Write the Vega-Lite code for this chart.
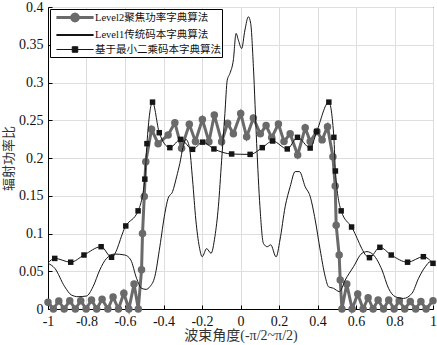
{
  "$schema": "https://vega.github.io/schema/vega-lite/v6.json",
  "width": 385,
  "height": 302,
  "autosize": "none",
  "padding": {"left": 48, "top": 7, "right": 4, "bottom": 36},
  "background": "white",
  "config": {
    "view": {"stroke": "black", "strokeWidth": 1},
    "font": "Liberation Serif, Noto Sans CJK SC",
    "axis": {
      "labelFont": "Liberation Serif, Noto Sans CJK SC",
      "titleFont": "Liberation Serif, Noto Sans CJK SC",
      "labelFontSize": 14,
      "labelColor": "#111",
      "titleFontSize": 13,
      "titleFontWeight": "normal",
      "titleColor": "#333",
      "domainColor": "black",
      "tickColor": "black",
      "tickSize": -4,
      "labelPadding": 9,
      "gridColor": "#dedede",
      "gridWidth": 1
    },
    "legend": {
      "labelFont": "Liberation Serif, Noto Sans CJK SC",
      "labelFontSize": 10.5,
      "labelColor": "#111",
      "title": null,
      "orient": "top-left",
      "offset": 2,
      "padding": 1,
      "rowPadding": 0,
      "strokeColor": "black",
      "fillColor": "white",
      "symbolSize": 144,
      "symbolOffset": 16.5,
      "labelOffset": 12.5
    }
  },
  "data": {
    "values": [
      {"series": "Level2聚焦功率字典算法", "x": -1, "y": 0.009},
      {"series": "Level2聚焦功率字典算法", "x": -0.972, "y": 0},
      {"series": "Level2聚焦功率字典算法", "x": -0.944, "y": 0.0106},
      {"series": "Level2聚焦功率字典算法", "x": -0.916, "y": 0},
      {"series": "Level2聚焦功率字典算法", "x": -0.887, "y": 0.011},
      {"series": "Level2聚焦功率字典算法", "x": -0.858, "y": 0},
      {"series": "Level2聚焦功率字典算法", "x": -0.83, "y": 0.011},
      {"series": "Level2聚焦功率字典算法", "x": -0.802, "y": 0},
      {"series": "Level2聚焦功率字典算法", "x": -0.774, "y": 0.012},
      {"series": "Level2聚焦功率字典算法", "x": -0.747, "y": 0},
      {"series": "Level2聚焦功率字典算法", "x": -0.719, "y": 0.013},
      {"series": "Level2聚焦功率字典算法", "x": -0.689, "y": 0},
      {"series": "Level2聚焦功率字典算法", "x": -0.662, "y": 0.016},
      {"series": "Level2聚焦功率字典算法", "x": -0.634, "y": 0},
      {"series": "Level2聚焦功率字典算法", "x": -0.606, "y": 0.021},
      {"series": "Level2聚焦功率字典算法", "x": -0.58, "y": 0},
      {"series": "Level2聚焦功率字典算法", "x": -0.553, "y": 0.033},
      {"series": "Level2聚焦功率字典算法", "x": -0.531, "y": 0},
      {"series": "Level2聚焦功率字典算法", "x": -0.514, "y": 0.052},
      {"series": "Level2聚焦功率字典算法", "x": -0.509, "y": 0.1},
      {"series": "Level2聚焦功率字典算法", "x": -0.5, "y": 0.149},
      {"series": "Level2聚焦功率字典算法", "x": -0.492, "y": 0.195},
      {"series": "Level2聚焦功率字典算法", "x": -0.462, "y": 0.238},
      {"series": "Level2聚焦功率字典算法", "x": -0.428, "y": 0.219},
      {"series": "Level2聚焦功率字典算法", "x": -0.376, "y": 0.2305},
      {"series": "Level2聚焦功率字典算法", "x": -0.341, "y": 0.2467},
      {"series": "Level2聚焦功率字典算法", "x": -0.306, "y": 0.213},
      {"series": "Level2聚焦功率字典算法", "x": -0.266, "y": 0.2446},
      {"series": "Level2聚焦功率字典算法", "x": -0.234, "y": 0.222},
      {"series": "Level2聚焦功率字典算法", "x": -0.198, "y": 0.251},
      {"series": "Level2聚焦功率字典算法", "x": -0.164, "y": 0.2216},
      {"series": "Level2聚焦功率字典算法", "x": -0.136, "y": 0.257},
      {"series": "Level2聚焦功率字典算法", "x": -0.098, "y": 0.2216},
      {"series": "Level2聚焦功率字典算法", "x": -0.067, "y": 0.246},
      {"series": "Level2聚焦功率字典算法", "x": -0.037, "y": 0.232},
      {"series": "Level2聚焦功率字典算法", "x": 0.001, "y": 0.259},
      {"series": "Level2聚焦功率字典算法", "x": 0.032, "y": 0.228},
      {"series": "Level2聚焦功率字典算法", "x": 0.067, "y": 0.253},
      {"series": "Level2聚焦功率字典算法", "x": 0.103, "y": 0.232},
      {"series": "Level2聚焦功率字典算法", "x": 0.133, "y": 0.243},
      {"series": "Level2聚焦功率字典算法", "x": 0.162, "y": 0.227},
      {"series": "Level2聚焦功率字典算法", "x": 0.197, "y": 0.245},
      {"series": "Level2聚焦功率字典算法", "x": 0.226, "y": 0.222},
      {"series": "Level2聚焦功率字典算法", "x": 0.258, "y": 0.232},
      {"series": "Level2聚焦功率字典算法", "x": 0.297, "y": 0.204},
      {"series": "Level2聚焦功率字典算法", "x": 0.336, "y": 0.24},
      {"series": "Level2聚焦功率字典算法", "x": 0.362, "y": 0.222},
      {"series": "Level2聚焦功率字典算法", "x": 0.397, "y": 0.235},
      {"series": "Level2聚焦功率字典算法", "x": 0.424, "y": 0.224},
      {"series": "Level2聚焦功率字典算法", "x": 0.452, "y": 0.2415},
      {"series": "Level2聚焦功率字典算法", "x": 0.48, "y": 0.2017},
      {"series": "Level2聚焦功率字典算法", "x": 0.492, "y": 0.163},
      {"series": "Level2聚焦功率字典算法", "x": 0.497, "y": 0.111},
      {"series": "Level2聚焦功率字典算法", "x": 0.5125, "y": 0.0715},
      {"series": "Level2聚焦功率字典算法", "x": 0.518, "y": 0.0384},
      {"series": "Level2聚焦功率字典算法", "x": 0.527, "y": 0},
      {"series": "Level2聚焦功率字典算法", "x": 0.552, "y": 0.033},
      {"series": "Level2聚焦功率字典算法", "x": 0.58, "y": 0},
      {"series": "Level2聚焦功率字典算法", "x": 0.609, "y": 0.02},
      {"series": "Level2聚焦功率字典算法", "x": 0.637, "y": 0},
      {"series": "Level2聚焦功率字典算法", "x": 0.663, "y": 0.015},
      {"series": "Level2聚焦功率字典算法", "x": 0.689, "y": 0},
      {"series": "Level2聚焦功率字典算法", "x": 0.715, "y": 0.012},
      {"series": "Level2聚焦功率字典算法", "x": 0.743, "y": 0},
      {"series": "Level2聚焦功率字典算法", "x": 0.77, "y": 0.012},
      {"series": "Level2聚焦功率字典算法", "x": 0.798, "y": 0},
      {"series": "Level2聚焦功率字典算法", "x": 0.825, "y": 0.011},
      {"series": "Level2聚焦功率字典算法", "x": 0.853, "y": 0},
      {"series": "Level2聚焦功率字典算法", "x": 0.882, "y": 0.01},
      {"series": "Level2聚焦功率字典算法", "x": 0.91, "y": 0},
      {"series": "Level2聚焦功率字典算法", "x": 0.937, "y": 0.01},
      {"series": "Level2聚焦功率字典算法", "x": 0.964, "y": 0},
      {"series": "Level2聚焦功率字典算法", "x": 1, "y": 0.011},

      {"series": "Level1传统码本字典算法", "x": -1, "y": 0.0605},
      {"series": "Level1传统码本字典算法", "x": -0.965, "y": 0.054},
      {"series": "Level1传统码本字典算法", "x": -0.913, "y": 0.0295},
      {"series": "Level1传统码本字典算法", "x": -0.878, "y": 0.0185},
      {"series": "Level1传统码本字典算法", "x": -0.844, "y": 0.0163},
      {"series": "Level1传统码本字典算法", "x": -0.8, "y": 0.0172},
      {"series": "Level1传统码本字典算法", "x": -0.766, "y": 0.0295},
      {"series": "Level1传统码本字典算法", "x": -0.731, "y": 0.0517},
      {"series": "Level1传统码本字典算法", "x": -0.696, "y": 0.067},
      {"series": "Level1传统码本字典算法", "x": -0.653, "y": 0.0728},
      {"series": "Level1传统码本字典算法", "x": -0.601, "y": 0.0715},
      {"series": "Level1传统码本字典算法", "x": -0.57, "y": 0.065},
      {"series": "Level1传统码本字典算法", "x": -0.54, "y": 0.0407},
      {"series": "Level1传统码本字典算法", "x": -0.514, "y": 0.0274},
      {"series": "Level1传统码本字典算法", "x": -0.49, "y": 0.026},
      {"series": "Level1传统码本字典算法", "x": -0.471, "y": 0.0295},
      {"series": "Level1传统码本字典算法", "x": -0.445, "y": 0.043},
      {"series": "Level1传统码本字典算法", "x": -0.419, "y": 0.0825},
      {"series": "Level1传统码本字典算法", "x": -0.393, "y": 0.1267},
      {"series": "Level1传统码本字典算法", "x": -0.376, "y": 0.1466},
      {"series": "Level1传统码本字典算法", "x": -0.353, "y": 0.1554},
      {"series": "Level1传统码本字典算法", "x": -0.332, "y": 0.175},
      {"series": "Level1传统码本字典算法", "x": -0.315, "y": 0.193},
      {"series": "Level1传统码本字典算法", "x": -0.298, "y": 0.215},
      {"series": "Level1传统码本字典算法", "x": -0.284, "y": 0.2247},
      {"series": "Level1传统码本字典算法", "x": -0.266, "y": 0.215},
      {"series": "Level1传统码本字典算法", "x": -0.249, "y": 0.171},
      {"series": "Level1传统码本字典算法", "x": -0.232, "y": 0.118},
      {"series": "Level1传统码本字典算法", "x": -0.214, "y": 0.0825},
      {"series": "Level1传统码本字典算法", "x": -0.199, "y": 0.0693},
      {"series": "Level1传统码本字典算法", "x": -0.176, "y": 0.08},
      {"series": "Level1传统码本字典算法", "x": -0.153, "y": 0.0738},
      {"series": "Level1传统码本字典算法", "x": -0.133, "y": 0.0958},
      {"series": "Level1传统码本字典算法", "x": -0.115, "y": 0.1355},
      {"series": "Level1传统码本字典算法", "x": -0.098, "y": 0.197},
      {"series": "Level1传统码本字典算法", "x": -0.081, "y": 0.259},
      {"series": "Level1传统码本字典算法", "x": -0.069, "y": 0.303},
      {"series": "Level1传统码本字典算法", "x": -0.055, "y": 0.312},
      {"series": "Level1传统码本字典算法", "x": -0.037, "y": 0.33},
      {"series": "Level1传统码本字典算法", "x": -0.023, "y": 0.365},
      {"series": "Level1传统码本字典算法", "x": -0.011, "y": 0.356},
      {"series": "Level1传统码本字典算法", "x": 0.006, "y": 0.345},
      {"series": "Level1传统码本字典算法", "x": 0.023, "y": 0.3695},
      {"series": "Level1传统码本字典算法", "x": 0.041, "y": 0.387},
      {"series": "Level1传统码本字典算法", "x": 0.053, "y": 0.378},
      {"series": "Level1传统码本字典算法", "x": 0.067, "y": 0.321},
      {"series": "Level1传统码本字典算法", "x": 0.084, "y": 0.219},
      {"series": "Level1传统码本字典算法", "x": 0.101, "y": 0.1355},
      {"series": "Level1传统码本字典算法", "x": 0.119, "y": 0.087},
      {"series": "Level1传统码本字典算法", "x": 0.139, "y": 0.0825},
      {"series": "Level1传统码本字典算法", "x": 0.157, "y": 0.085},
      {"series": "Level1传统码本字典算法", "x": 0.185, "y": 0.069},
      {"series": "Level1传统码本字典算法", "x": 0.205, "y": 0.0914},
      {"series": "Level1传统码本字典算法", "x": 0.232, "y": 0.1355},
      {"series": "Level1传统码本字典算法", "x": 0.258, "y": 0.162},
      {"series": "Level1传统码本字典算法", "x": 0.284, "y": 0.182},
      {"series": "Level1传统码本字典算法", "x": 0.306, "y": 0.182},
      {"series": "Level1传统码本字典算法", "x": 0.336, "y": 0.162},
      {"series": "Level1传统码本字典算法", "x": 0.362, "y": 0.149},
      {"series": "Level1传统码本字典算法", "x": 0.388, "y": 0.118},
      {"series": "Level1传统码本字典算法", "x": 0.414, "y": 0.078},
      {"series": "Level1传统码本字典算法", "x": 0.44, "y": 0.043},
      {"series": "Level1传统码本字典算法", "x": 0.457, "y": 0.0295},
      {"series": "Level1传统码本字典算法", "x": 0.483, "y": 0.0274},
      {"series": "Level1传统码本字典算法", "x": 0.514, "y": 0.023},
      {"series": "Level1传统码本字典算法", "x": 0.544, "y": 0.0384},
      {"series": "Level1传统码本字典算法", "x": 0.587, "y": 0.056},
      {"series": "Level1传统码本字典算法", "x": 0.631, "y": 0.0738},
      {"series": "Level1传统码本字典算法", "x": 0.657, "y": 0.076},
      {"series": "Level1传统码本字典算法", "x": 0.691, "y": 0.0715},
      {"series": "Level1传统码本字典算法", "x": 0.735, "y": 0.0517},
      {"series": "Level1传统码本字典算法", "x": 0.769, "y": 0.0274},
      {"series": "Level1传统码本字典算法", "x": 0.804, "y": 0.0163},
      {"series": "Level1传统码本字典算法", "x": 0.847, "y": 0.014},
      {"series": "Level1传统码本字典算法", "x": 0.891, "y": 0.0208},
      {"series": "Level1传统码本字典算法", "x": 0.925, "y": 0.0407},
      {"series": "Level1传统码本字典算法", "x": 0.96, "y": 0.056},
      {"series": "Level1传统码本字典算法", "x": 0.986, "y": 0.0626},
      {"series": "Level1传统码本字典算法", "x": 1, "y": 0.061},

      {"series": "基于最小二乘码本字典算法", "x": -1, "y": 0.061},
      {"series": "基于最小二乘码本字典算法", "x": -0.965, "y": 0.067},
      {"series": "基于最小二乘码本字典算法", "x": -0.882, "y": 0.062},
      {"series": "基于最小二乘码本字典算法", "x": -0.813, "y": 0.0715},
      {"series": "基于最小二乘码本字典算法", "x": -0.724, "y": 0.0825},
      {"series": "基于最小二乘码本字典算法", "x": -0.67, "y": 0.0685},
      {"series": "基于最小二乘码本字典算法", "x": -0.596, "y": 0.11},
      {"series": "基于最小二乘码本字典算法", "x": -0.532, "y": 0.13},
      {"series": "基于最小二乘码本字典算法", "x": -0.497, "y": 0.172},
      {"series": "基于最小二乘码本字典算法", "x": -0.486, "y": 0.219},
      {"series": "基于最小二乘码本字典算法", "x": -0.457, "y": 0.274},
      {"series": "基于最小二乘码本字典算法", "x": -0.422, "y": 0.2335},
      {"series": "基于最小二乘码本字典算法", "x": -0.367, "y": 0.2137},
      {"series": "基于最小二乘码本字典算法", "x": -0.311, "y": 0.2247},
      {"series": "基于最小二乘码本字典算法", "x": -0.249, "y": 0.2115},
      {"series": "基于最小二乘码本字典算法", "x": -0.197, "y": 0.221},
      {"series": "基于最小二乘码本字典算法", "x": -0.138, "y": 0.212},
      {"series": "基于最小二乘码本字典算法", "x": -0.046, "y": 0.2053},
      {"series": "基于最小二乘码本字典算法", "x": 0.05, "y": 0.2048},
      {"series": "基于最小二乘码本字典算法", "x": 0.113, "y": 0.2137},
      {"series": "基于最小二乘码本字典算法", "x": 0.167, "y": 0.2225},
      {"series": "基于最小二乘码本字典算法", "x": 0.243, "y": 0.212},
      {"series": "基于最小二乘码本字典算法", "x": 0.296, "y": 0.2274},
      {"series": "基于最小二乘码本字典算法", "x": 0.362, "y": 0.2132},
      {"series": "基于最小二乘码本字典算法", "x": 0.396, "y": 0.235},
      {"series": "基于最小二乘码本字典算法", "x": 0.459, "y": 0.274},
      {"series": "基于最小二乘码本字典算法", "x": 0.485, "y": 0.2274},
      {"series": "基于最小二乘码本字典算法", "x": 0.493, "y": 0.1828},
      {"series": "基于最小二乘码本字典算法", "x": 0.523, "y": 0.13},
      {"series": "基于最小二乘码本字典算法", "x": 0.577, "y": 0.1086},
      {"series": "基于最小二乘码本字典算法", "x": 0.67, "y": 0.068},
      {"series": "基于最小二乘码本字典算法", "x": 0.724, "y": 0.0817},
      {"series": "基于最小二乘码本字典算法", "x": 0.783, "y": 0.0715},
      {"series": "基于最小二乘码本字典算法", "x": 0.868, "y": 0.062},
      {"series": "基于最小二乘码本字典算法", "x": 0.95, "y": 0.0693},
      {"series": "基于最小二乘码本字典算法", "x": 1, "y": 0.0605}
    ]
  },
  "encoding": {
    "x": {
      "field": "x",
      "type": "quantitative",
      "scale": {"domain": [-1, 1], "nice": false, "zero": false},
      "axis": {
        "title": "波束角度(-π/2~π/2)",
        "titleFontSize": 14,
        "titlePadding": 0,
        "values": [-1, -0.8, -0.6, -0.4, -0.2, 0, 0.2, 0.4, 0.6, 0.8, 1],
        "labelExpr": "'' + datum.value",
        "labelFlush": false,
        "grid": true
      }
    },
    "y": {
      "field": "y",
      "type": "quantitative",
      "scale": {"domain": [0, 0.4], "nice": false},
      "axis": {
        "title": "辐射功率比",
        "titlePadding": 3,
        "values": [0, 0.05, 0.1, 0.15, 0.2, 0.25, 0.3, 0.35, 0.4],
        "labelExpr": "'' + datum.value",
        "labelFlush": false,
        "grid": true
      }
    }
  },
  "layer": [
    {
      "transform": [{"filter": "datum.series === 'Level2聚焦功率字典算法'"}],
      "mark": {"type": "line", "color": "#6a6a6a", "strokeWidth": 3, "clip": false}
    },
    {
      "transform": [{"filter": "datum.series === 'Level2聚焦功率字典算法'"}],
      "mark": {"type": "point", "filled": true, "shape": "circle", "size": 56, "color": "#6a6a6a", "opacity": 1, "clip": false}
    },
    {
      "transform": [{"filter": "datum.series === 'Level1传统码本字典算法'"}],
      "mark": {"type": "line", "color": "#151515", "strokeWidth": 1, "interpolate": "monotone"}
    },
    {
      "transform": [{"filter": "datum.series === '基于最小二乘码本字典算法'"}],
      "mark": {"type": "line", "color": "#151515", "strokeWidth": 1, "interpolate": "monotone"}
    },
    {
      "transform": [{"filter": "datum.series === '基于最小二乘码本字典算法' && datum.x > -0.99"}],
      "mark": {"type": "point", "filled": true, "shape": "square", "size": 30, "color": "#151515", "opacity": 1}
    },
    {
      "mark": {"type": "point", "opacity": 0},
      "encoding": {
        "shape": {
          "field": "series",
          "type": "nominal",
          "scale": {
            "domain": ["Level2聚焦功率字典算法", "Level1传统码本字典算法", "基于最小二乘码本字典算法"],
            "range": [
              "M-3.1,0L3.1,0M0.56,0L0.485,0.28L0.28,0.485L0,0.56L-0.28,0.485L-0.485,0.28L-0.56,0L-0.485,-0.28L-0.28,-0.485L0,-0.56L0.28,-0.485L0.485,-0.28Z",
              "M0,-0.63L0,-0.63M0,0.63L0,0.63M-3.1,0L3.1,0",
              "M0,-0.63L0,-0.63M0,0.63L0,0.63M-3.1,0L3.1,0M-0.46,-0.46L0.46,-0.46L0.46,0.46L-0.46,0.46Z"
            ]
          },
          "legend": {"encode": {"symbols": {"update": {"opacity": {"value": 1}}}}}
        },
        "fill": {
          "field": "series",
          "type": "nominal",
          "scale": {
            "domain": ["Level2聚焦功率字典算法", "Level1传统码本字典算法", "基于最小二乘码本字典算法"],
            "range": ["#6a6a6a", "#151515", "#151515"]
          },
          "legend": {"encode": {"symbols": {"update": {"opacity": {"value": 1}}}}}
        },
        "stroke": {
          "field": "series",
          "type": "nominal",
          "scale": {
            "domain": ["Level2聚焦功率字典算法", "Level1传统码本字典算法", "基于最小二乘码本字典算法"],
            "range": ["#6a6a6a", "#151515", "#151515"]
          },
          "legend": {"encode": {"symbols": {"update": {"opacity": {"value": 1}}}}}
        },
        "strokeWidth": {
          "field": "series",
          "type": "nominal",
          "scale": {
            "domain": ["Level2聚焦功率字典算法", "Level1传统码本字典算法", "基于最小二乘码本字典算法"],
            "range": [3, 1, 1]
          },
          "legend": {"encode": {"symbols": {"update": {"opacity": {"value": 1}}}}}
        }
      }
    }
  ]
}
